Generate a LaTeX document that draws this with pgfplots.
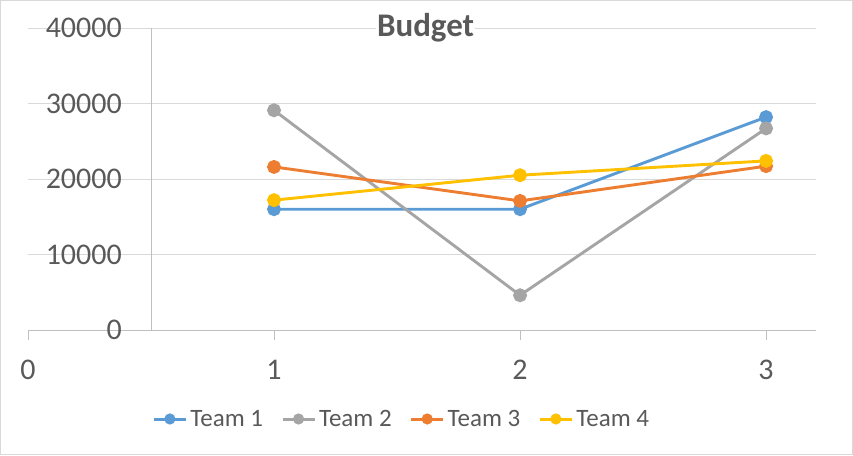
\documentclass[border=0pt]{standalone}
\usepackage{pgfplots}
\pgfplotsset{compat=1.18}
\usepackage{fontspec}
\setmainfont{Carlito}
\definecolor{t1}{HTML}{5B9BD5}
\definecolor{t2}{HTML}{A5A5A5}
\definecolor{t3}{HTML}{ED7D31}
\definecolor{t4}{HTML}{FFC000}
\definecolor{txt}{HTML}{595959}
\definecolor{gridc}{HTML}{D9D9D9}
\definecolor{axc}{HTML}{BFBFBF}
\begin{document}
\begin{tikzpicture}
\begin{axis}[
  scale only axis, width=788pt, height=302pt,
  xmin=0, xmax=3.203, ymin=0, ymax=40000,
  axis x line*=bottom, axis y line*=left,
  y axis line style={draw=none},
  x axis line style={color=axc, line width=1pt},
  xtick={0,1,2,3}, ytick={0,10000,20000,30000,40000},
  tick align=outside, major tick length=10pt,
  xtick style={color=axc, line width=1pt},
  ytick style={draw=none},
  ymajorgrids, grid style={color=gridc, line width=1pt},
  scaled y ticks=false,
  /pgf/number format/assume math mode=true,
  yticklabel={\pgfmathprintnumber[1000 sep={}]{\tick}},
  ticklabel style={font=\fontsize{30}{34}\selectfont, text=txt, inner sep=0pt},
  yticklabel style={anchor=east, xshift=104pt},
  xticklabel style={anchor=north, yshift=-20pt},
  title={Budget},
  title style={at={(0.5045,1)}, anchor=base, yshift=-14pt, font=\bfseries\fontsize{33}{36}\selectfont, text=txt, fill=white, inner sep=1pt},
  legend columns=4,
  legend style={draw=none, at={(0.473,-0.2947)}, anchor=center, font=\fontsize{25}{28}\selectfont, text=txt,
    nodes={inner sep=0pt},
    /tikz/every odd column/.append style={column sep=3pt},
    /tikz/every even column/.append style={column sep=18pt}},
  legend image code/.code={\draw[mark repeat=2,mark phase=2,#1,line width=3pt,mark size=4pt] plot coordinates {(0pt,0pt) (16pt,0pt) (32pt,0pt)};},
  every axis plot/.append style={line width=2.9pt, mark=*, mark size=5.5pt, mark options={solid}},
  clip=false,
]
\draw[color=axc, line width=1pt] (axis cs:0.5,0) -- (axis cs:0.5,40000);
\addplot[color=t1] coordinates {(1,16000) (2,16000) (3,28200)};
\addplot[color=t2] coordinates {(1,29100) (2,4600) (3,26700)};
\addplot[color=t3] coordinates {(1,21600) (2,17100) (3,21700)};
\addplot[color=t4] coordinates {(1,17200) (2,20500) (3,22400)};
\legend{Team 1, Team 2, Team 3, Team 4}
\end{axis}
\draw[shift={(current axis.south west)}, color=gridc, line width=1pt] (-27.5pt,-124.5pt) rectangle (824.5pt,329.5pt);
\end{tikzpicture}
\end{document}
